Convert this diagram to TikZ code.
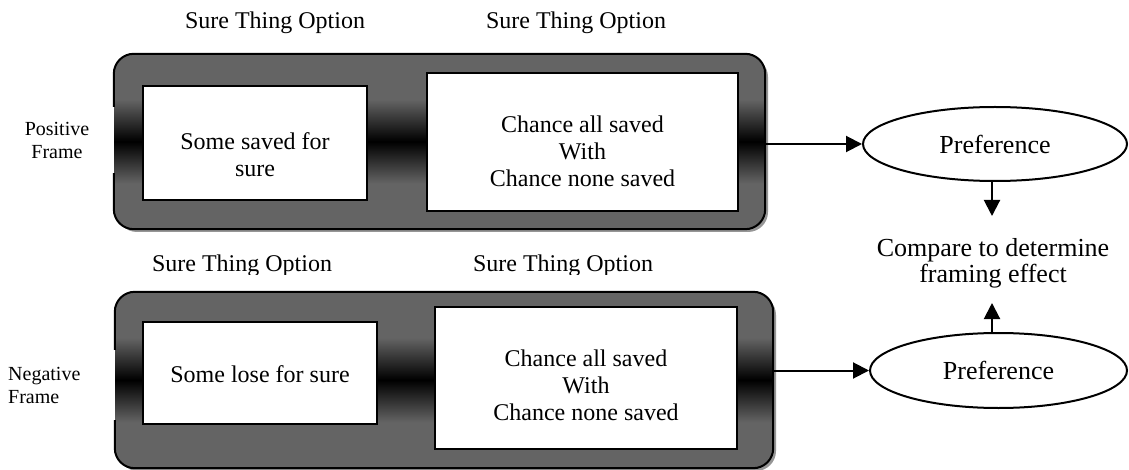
\documentclass[tikz,border=0pt]{standalone}
\usepackage{fontspec}
\setmainfont{Liberation Serif}
\usetikzlibrary{shapes.geometric,arrows.meta,shadows,calc}
\definecolor{sgray}{RGB}{100,100,100}
\definecolor{shadowgray}{RGB}{150,150,150}
\pgfdeclareverticalshading{cshade}{100bp}{color(0bp)=(sgray); color(38bp)=(sgray); color(50bp)=(black); color(62bp)=(sgray); color(100bp)=(sgray)}
\begin{document}
\begin{tikzpicture}[x=1pt,y=-1pt,
  container/.style={rectangle, rounded corners=20pt, shading=cshade, draw=none, inner sep=0pt,
    drop shadow={shadow xshift=3pt, shadow yshift=-3pt, fill=shadowgray, opacity=1}},
  border/.style={draw=black, line width=2pt, rounded corners=20pt},
  optbox/.style={rectangle, draw=black, fill=white, line width=2pt, inner sep=0pt},
  boxtext/.style={align=center, anchor=base, inner sep=0pt, font=\fontsize{24}{27}\selectfont},
  toplabel/.style={anchor=base, inner sep=0pt, font=\fontsize{24}{27}\selectfont},
  framelabel/.style={anchor=base, inner sep=0pt, font=\fontsize{20}{23}\selectfont},
  pref/.style={ellipse, draw=black, fill=white, line width=2pt, inner sep=0pt, font=\fontsize{26}{26}\selectfont},
  arr/.style={line width=2pt, -{Triangle[length=16pt,width=16pt]}}
]
\useasboundingbox (0,0) rectangle (1129,470);
\fill[white] (0,0) rectangle (1129,470);

% top labels
\node[toplabel] (lt1) at (275,29) {Sure Thing Option};
\node[toplabel] (lt2) at (576,29) {Sure Thing Option};

% bottom labels (clipped at bottom as in the picture)
\begin{scope}
\clip (0,240) rectangle (1129,274.5);
\node[toplabel] (lb1) at (242,272) {Sure Thing Option};
\node[toplabel] (lb2) at (563,272) {Sure Thing Option};
\end{scope}

% frame labels (base = last line)
\node[framelabel, align=center] (pf) at (57,159) {Positive\\Frame};
\node[framelabel, align=left, anchor=base west] (nf) at (8,403) {Negative\\Frame};

% containers
\node[container, minimum width=651pt, minimum height=175pt] (c1) at (439.5,141.5) {};
\draw[border] ($(c1.north west)+(0,53)$) -- (c1.north west) -- (c1.north east) -- (c1.south east) -- (c1.south west) -- ($(c1.south west)+(0,-56)$);
\node[container, minimum width=658pt, minimum height=176pt] (c2) at (444,380) {};
\draw[border] ($(c2.north west)+(0,58)$) -- (c2.north west) -- (c2.north east) -- (c2.south east) -- (c2.south west) -- ($(c2.south west)+(0,-48)$);

% option boxes
\node[optbox, minimum width=224pt, minimum height=114pt] (b1) at (255,143) {};
\node[boxtext] (t1) at (255,177) {Some saved for\\sure};
\node[optbox, minimum width=311pt, minimum height=138pt] (b2) at (582.5,142) {};
\node[boxtext] (t2) at (582.5,187) {Chance all saved\\With\\Chance none saved};
\node[optbox, minimum width=234pt, minimum height=102pt] (b3) at (260,373) {};
\node[boxtext] (t3) at (260,382) {Some lose for sure};
\node[optbox, minimum width=302pt, minimum height=142pt] (b4) at (586,378) {};
\node[boxtext] (t4) at (586,420) {Chance all saved\\With\\Chance none saved};

% preferences
\node[pref, minimum width=264pt, minimum height=74pt] (e1) at (995,144) {Preference};
\node[pref, minimum width=257pt, minimum height=75pt] (e2) at (998.5,370.5) {Preference};

% compare
\node[boxtext, font=\fontsize{26}{26}\selectfont] (cmp) at (993,283) {Compare to determine\\framing effect};
\coordinate (cmpTop) at (992,216);
\coordinate (cmpBot) at (992,303);

% connectors
\draw[arr] (c1.east |- e1.west) -- (e1.west);
\draw[arr] (c2.east |- e2.west) -- (e2.west);
\draw[arr] (e1.south -| cmpTop) -- (cmpTop);
\draw[arr] (e2.north -| cmpBot) -- (cmpBot);
\end{tikzpicture}
\end{document}
